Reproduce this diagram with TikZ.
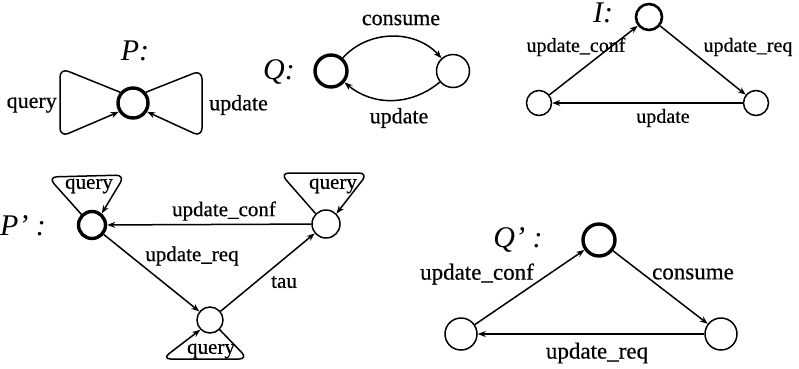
\documentclass[tikz,border=0pt]{standalone}
\usepackage{fontspec}
\setmainfont{Liberation Serif}
\newfontfamily\labfont[FakeBold=0.5]{Liberation Serif}
\usetikzlibrary{arrows.meta}
\begin{document}
\begin{tikzpicture}[x=1pt,y=-1pt,
  state/.style={circle,draw,line width=1.5pt,inner sep=0pt,minimum size=#1},
  state/.default=30pt,
  init/.style={state=#1,line width=3.4pt},
  init/.default=30pt,
  edge/.style={line width=1.5pt,-{Stealth[length=8pt,width=6pt,inset=2.5pt]}},
  loopedge/.style={edge,rounded corners=9pt},
  lab/.style={font=\labfont\fontsize{#1}{#1}\selectfont,inner sep=0pt},
  lab/.default=21,
  ttl/.style={font=\fontsize{30}{30}\selectfont\itshape,inner sep=0pt}]
\useasboundingbox (0,0) rectangle (799,368);

% ---- P: one state, two self loops
\node[ttl] (Pt) at (135,51) {P:};
\node[init] (p0) at (133,103) {};
\draw[loopedge] (p0.140) -- (60,68) -- (60,137) -- (p0.212);
\draw[loopedge] (p0.40) -- (202,70) -- (202,137) -- (p0.328);
\node[lab=22,anchor=east] (Pq) at (57,105) {query};
\node[lab=22,anchor=west] (Pu) at (209,105) {update};

% ---- Q: two states
\node[ttl] (Qt) at (279,72) {Q:};
\node[init=32pt] (q0) at (331,71) {};
\node[state=33pt] (q1) at (453,71) {};
\draw[edge] (q0) to[out=48,in=132] (q1);
\draw[edge] (q1) to[out=-140,in=-40] (q0);
\node[lab=22] (Qc) at (401,20) {consume};
\node[lab=22] (Qu) at (399,118) {update};

% ---- I: three states
\node[ttl] (It) at (603,13) {I:};
\node[init=26pt,line width=2.6pt] (i0) at (649,17) {};
\node[state=25pt] (i1) at (539,103) {};
\node[state=25pt] (i2) at (756,103) {};
\draw[edge] (i1) -- (i0);
\draw[edge] (i0) -- (i2);
\draw[edge] (i2) -- (i1);
\node[lab=20] (Ic) at (576,47) {update\_conf};
\node[lab=20] (Ir) at (748,47) {update\_req};
\node[lab=20] (Iu) at (663,118) {update};

% ---- P': three states with query loops
\node[ttl] (Ppt) at (23,226) {P’ :};
\node[init=27pt] (a) at (92,225) {};
\node[state=28pt] (b) at (326,224) {};
\node[state=26pt] (c) at (210,320) {};
\draw[edge] (b) -- (a);
\draw[edge] (a) -- (c);
\draw[edge] (c) -- (b);
\draw[loopedge] (a.135) -- (48,177) -- (125,175) -- (a.50);
\draw[loopedge] (b.135) -- (280,173) -- (368,173) -- (b.45);
\draw[loopedge] (c.-45) -- (248,359) -- (162,359) -- (c.-135);
\node[lab] (aq) at (89,186) {query};
\node[lab] (bq) at (333,186) {query};
\node[lab] (cq) at (211,351) {query};
\node[lab] (Pc) at (224,211) {update\_conf};
\node[lab] (Pr) at (192,256) {update\_req};
\node[lab] (Ptau) at (284,282) {tau};

% ---- Q': three states
\node[ttl] (Qpt) at (518,240) {Q’ :};
\node[init=32pt] (t) at (599,240) {};
\node[state=32pt] (l) at (461,334) {};
\node[state=32pt] (r) at (721,334) {};
\draw[edge] (l) -- (t);
\draw[edge] (t) -- (r);
\draw[edge] (r) -- (l);
\node[lab=23] (Qpc) at (477,274) {update\_conf};
\node[lab=23] (Qpn) at (693,274) {consume};
\node[lab=23] (Qpr) at (597,353) {update\_req};
\end{tikzpicture}
\end{document}
